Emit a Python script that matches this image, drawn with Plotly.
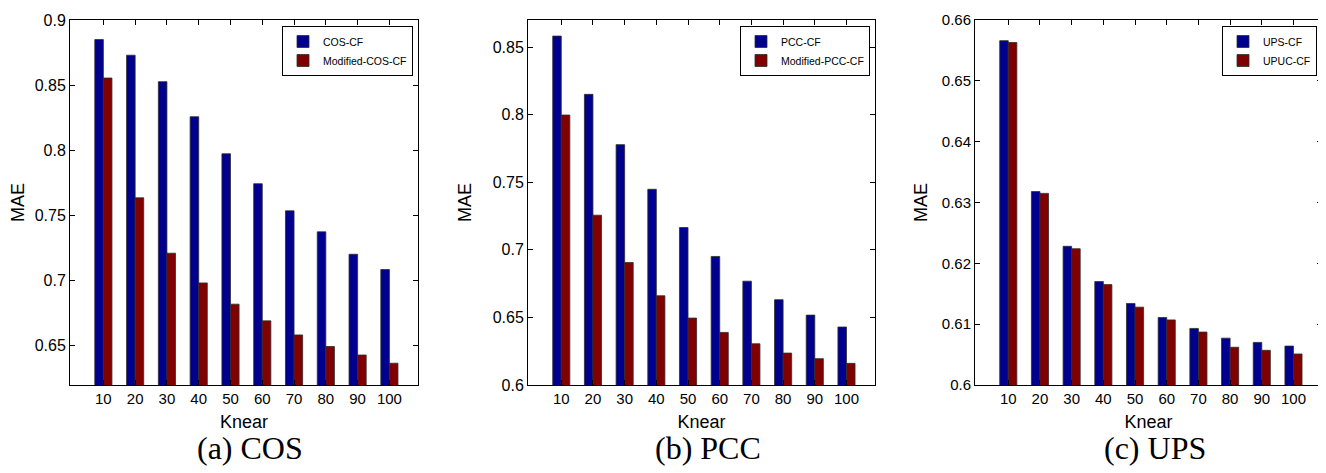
import plotly.graph_objects as go

# ---------------- data ----------------
knear = ["10", "20", "30", "40", "50", "60", "70", "80", "90", "100"]

cos_cf = [0.885, 0.873, 0.8527, 0.8258, 0.7974, 0.7744, 0.7536, 0.7375, 0.7203, 0.7086]
mod_cos_cf = [0.8555, 0.7636, 0.7211, 0.6983, 0.6820, 0.6692, 0.6584, 0.6495, 0.6430, 0.6367]

pcc_cf = [0.8581, 0.8150, 0.7778, 0.7448, 0.7165, 0.6951, 0.6768, 0.6631, 0.6517, 0.6429]
mod_pcc_cf = [0.7997, 0.7256, 0.6906, 0.6660, 0.6495, 0.6389, 0.6305, 0.6236, 0.6195, 0.6160]

ups_cf = [0.6566, 0.6318, 0.6228, 0.6170, 0.6134, 0.6111, 0.6093, 0.6077, 0.6070, 0.6064]
upuc_cf = [0.6563, 0.6315, 0.6224, 0.6165, 0.6128, 0.6107, 0.6087, 0.6062, 0.6057, 0.6051]

yticks_a = [0.65, 0.70, 0.75, 0.80, 0.85, 0.90]
yticktext_a = ["0.65", "0.7", "0.75", "0.8", "0.85", "0.9"]
yticks_b = [0.60, 0.65, 0.70, 0.75, 0.80, 0.85]
yticktext_b = ["0.6", "0.65", "0.7", "0.75", "0.8", "0.85"]
yticks_c = [0.60, 0.61, 0.62, 0.63, 0.64, 0.65, 0.66]
yticktext_c = ["0.6", "0.61", "0.62", "0.63", "0.64", "0.65", "0.66"]

captions = ["(a) COS", "(b) PCC", "(c) UPS"]

# ---------------- style ----------------
BLUE = "#00008F"
RED = "#800000"
EDGE = "rgb(45,45,45)"
SANS = "Liberation Sans, Arial, Helvetica, sans-serif"
SERIF = "Liberation Serif, Times New Roman, serif"

# the page body has an 8px default margin: work in page pixels, convert to figure pixels
OFF = 8
PAGE_W, PAGE_H = 1326, 473
W, H = PAGE_W - OFF, PAGE_H - OFF


def fx(px):
    return px - OFF


ML = fx(70)           # left of first axes
MT = fx(20)           # top of axes
MR = W - fx(1322)     # right of last axes
MB = H - fx(385)      # bottom of axes
PW = W - ML - MR
PH = H - MT - MB


def dom(x0, x1):
    return [(fx(x0) - ML) / PW, (fx(x1) - ML) / PW]


def py(pyv):
    return 1 - (fx(pyv) - MT) / PH


def px_(pxv):
    return (fx(pxv) - ML) / PW


fig = go.Figure()

panels = [
    (cos_cf, mod_cos_cf, "COS-CF", "Modified-COS-CF", "x", "y", "legend"),
    (pcc_cf, mod_pcc_cf, "PCC-CF", "Modified-PCC-CF", "x2", "y2", "legend2"),
    (ups_cf, upuc_cf, "UPS-CF", "UPUC-CF", "x3", "y3", "legend3"),
]

for a, b, na, nb, xa, ya, lg in panels:
    fig.add_trace(go.Bar(x=knear, y=a, name=na, xaxis=xa, yaxis=ya, legend=lg,
                         marker=dict(color=BLUE, line=dict(color=EDGE, width=0.8))))
    fig.add_trace(go.Bar(x=knear, y=b, name=nb, xaxis=xa, yaxis=ya, legend=lg,
                         marker=dict(color=RED, line=dict(color=EDGE, width=0.8))))

common_x = dict(
    type="category", range=[-1.05, 9.9], showline=True, linecolor="black", linewidth=1,
    mirror="ticks", ticks="inside", ticklen=5, tickcolor="black", showgrid=False,
    zeroline=False, automargin=False, tickfont=dict(family=SANS, size=15, color="black"),
    title=dict(text="Knear", font=dict(family=SANS, size=18, color="black"), standoff=9),
    fixedrange=True,
)
common_y = dict(
    showline=True, linecolor="black", linewidth=1, mirror="ticks", ticks="inside",
    ticklen=5, tickcolor="black", showgrid=False, zeroline=False, automargin=False,
    tickfont=dict(family=SANS, size=16, color="black"), fixedrange=True,
)
ttl = dict(family=SANS, size=18, color="black")

fig.update_layout(
    width=W, height=H,
    margin=dict(l=ML, r=MR, t=MT, b=MB, pad=0),
    paper_bgcolor="white", plot_bgcolor="white",
    barmode="group", bargap=0.46, bargroupgap=0.0,
    font=dict(family=SANS, color="black"),
    xaxis=dict(domain=dom(70, 418), anchor="y", **common_x),
    xaxis2=dict(domain=dom(528, 875), anchor="y2", **common_x),
    xaxis3=dict(domain=dom(975, 1322), anchor="y3", **common_x),
    yaxis=dict(domain=[0, 1], anchor="x", range=[0.62, 0.9], tickvals=yticks_a,
               ticktext=yticktext_a, title=dict(text="MAE", font=ttl, standoff=6),
               **common_y),
    yaxis2=dict(domain=[0, 1], anchor="x2", range=[0.6, 0.87], tickvals=yticks_b,
                ticktext=yticktext_b, title=dict(text="MAE", font=ttl, standoff=16),
                **common_y),
    yaxis3=dict(domain=[0, 1], anchor="x3", range=[0.6, 0.66], tickvals=yticks_c,
                ticktext=yticktext_c, title=dict(text="MAE", font=ttl, standoff=9),
                **{**common_y, "tickfont": dict(family=SANS, size=15, color="black")}),
)

leg_common = dict(bgcolor="white", bordercolor="black", borderwidth=1,
                  font=dict(family=SANS, size=10.5, color="black"),
                  xanchor="right", yanchor="top", xref="paper", yref="paper",
                  tracegroupgap=0, itemwidth=30, traceorder="normal")
fig.update_layout(
    legend=dict(x=px_(413), y=py(26), **leg_common),
    legend2=dict(x=px_(870), y=py(26), **leg_common),
    legend3=dict(x=px_(1317), y=py(26), **leg_common),
)

cap_x = [250, 708, 1155]
for cx, txt in zip(cap_x, captions):
    fig.add_annotation(text=txt, x=px_(cx), y=py(448),
                       xref="paper", yref="paper", xanchor="center", yanchor="middle",
                       showarrow=False, font=dict(family=SERIF, size=32, color="black"))

fig.write_html("out.html")
